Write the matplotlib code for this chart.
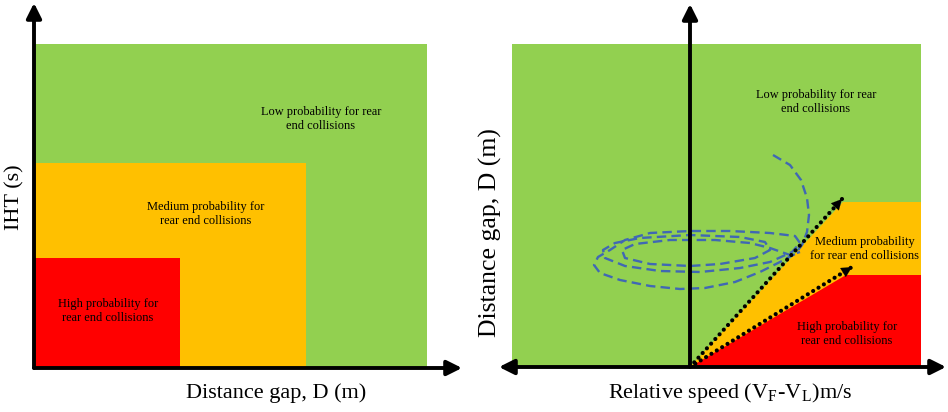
import matplotlib
matplotlib.use("Agg")
import matplotlib.pyplot as plt
from matplotlib.patches import Rectangle, Polygon

plt.rcParams['font.family'] = ['Liberation Serif', 'DejaVu Serif']
plt.rcParams['mathtext.fontset'] = 'stix'

GREEN = '#92D050'
ORANGE = '#FFC000'
RED = '#FF0000'
BLUE = '#4068B4'

# ---- left panel: IHT vs distance gap (zone widths / heights) ----
left_zone_names = ['Low', 'Medium', 'High']
left_zone_w = [39.3, 27.2, 14.6]
left_zone_h = [32.4, 20.5, 11.0]
left_zone_colors = [GREEN, ORANGE, RED]
left_zone_text = ['Low probability for rear\nend collisions',
                  'Medium probability for\nrear end collisions',
                  'High probability for\nrear end collisions']
left_text_x = [28.7, 17.2, 7.4]
left_text_y = [24.9, 15.4, 5.7]

# ---- right panel: distance gap vs relative speed ----
green_x = [-17.8, 23.1]
green_top = 32.3
orange_x = [0.0, 15.3, 23.1, 23.1]
orange_y = [0.0, 16.5, 16.5, 0.0]
red_x = [0.0, 15.6, 23.1, 23.1]
red_y = [0.0, 9.2, 9.2, 0.0]
upper_line = [(0.0, 0.0), (15.2, 16.8)]
lower_line = [(0.0, 0.0), (16.2, 10.0)]

traj_x = [8.3, 10.0, 11.1, 11.7, 11.9, 11.7, 11.2, 10.5, 9.0, 7.0, 4.5, 1.5,
          -1.0, -4.0, -7.0, -9.0, -9.6, -9.2, -8.0, -6.5, -4.0, 0.0, 4.0, 8.0,
          10.5, 11.0, 10.2, 8.0, 5.0, 1.0, -3.0, -6.5, -8.5, -8.7, -7.5, -5.0,
          0.0, 5.0, 7.5, 8.0, 6.5, 3.0, 0.0, -4.0, -6.5, -6.8, -5.5, -2.0,
          2.5, 6.0, 8.0, 10.0, 11.0]
traj_y = [21.2, 20.2, 18.7, 16.9, 15.2, 13.5, 12.2, 11.3, 10.5, 9.5, 8.5, 7.9,
          7.8, 8.1, 8.7, 9.4, 10.2, 11.0, 11.7, 12.7, 13.4, 13.6, 13.6, 13.4,
          13.1, 12.4, 11.5, 10.5, 9.9, 9.5, 9.6, 10.1, 10.9, 11.7, 12.4, 12.9,
          13.2, 13.0, 12.5, 11.7, 10.9, 10.3, 10.1, 10.3, 10.9, 11.7, 12.3, 12.7,
          12.7, 12.4, 11.9, 11.2, 11.5]

right_text = ['Low probability for rear\nend collisions',
              'Medium probability\nfor rear end collisions',
              'High probability for\nrear end collisions']
right_text_x = [12.6, 17.5, 15.7]
right_text_y = [26.5, 11.8, 3.3]

W, H = 948, 412
fig = plt.figure(figsize=(W / 100, H / 100), dpi=100)

axis_arrow = dict(arrowstyle='-|>,head_length=0.9,head_width=0.45',
                  color='black', lw=2.8, shrinkA=0, shrinkB=0)

# left axes
ax1 = fig.add_axes([34 / W, (H - 368) / H, 436 / W, 368 / H])
ax1.set_xlim(0, 43.6)
ax1.set_ylim(0, 36.8)
ax1.axis('off')
for w, h, c in zip(left_zone_w, left_zone_h, left_zone_colors):
    ax1.add_patch(Rectangle((0, 0), w, h, color=c, lw=0))
for t, x, y in zip(left_zone_text, left_text_x, left_text_y):
    ax1.text(x, y, t, ha='center', va='center', fontsize=8.9, linespacing=1.2)
ax1.annotate('', xy=(42.8, 0), xytext=(0, 0), arrowprops=axis_arrow,
             annotation_clip=False)
ax1.annotate('', xy=(0, 36.5), xytext=(0, 0), arrowprops=axis_arrow,
             annotation_clip=False)
ax1.text(24.2, -2.5, 'Distance gap, D (m)', ha='center', va='center',
         fontsize=16)
ax1.text(-1.9, 17.1, 'IHT (s)', ha='center', va='center', fontsize=16,
         rotation=90)

# right axes
ax2 = fig.add_axes([498 / W, (H - 367) / H, 450 / W, 367 / H])
ax2.set_xlim(-19.2, 25.8)
ax2.set_ylim(0, 36.7)
ax2.axis('off')
ax2.add_patch(Rectangle((green_x[0], 0), green_x[1] - green_x[0], green_top,
                        color=GREEN, lw=0))
ax2.add_patch(Polygon(list(zip(orange_x, orange_y)), color=ORANGE, lw=0))
ax2.add_patch(Polygon(list(zip(red_x, red_y)), color=RED, lw=0))
ax2.plot(traj_x, traj_y, color=BLUE, lw=1.7, ls=(0, (4, 2.2)))
for line in (upper_line, lower_line):
    (x0, y0), (x1, y1) = line
    ax2.plot([x0, x1], [y0, y1], color='black', lw=3.0, ls=(0, (0.01, 1.5)),
             dash_capstyle='round')
    ax2.annotate('', xy=(x1, y1),
                 xytext=(x0 + 0.88 * (x1 - x0), y0 + 0.88 * (y1 - y0)),
                 arrowprops=dict(arrowstyle='-|>,head_length=0.75,head_width=0.38',
                                 color='black', lw=0.1, shrinkA=0, shrinkB=0))
for t, x, y in zip(right_text, right_text_x, right_text_y):
    ax2.text(x, y, t, ha='center', va='center', fontsize=8.9, linespacing=1.2)
dbl_arrow = dict(axis_arrow)
dbl_arrow['arrowstyle'] = '<|-|>,head_length=0.9,head_width=0.45'
ax2.annotate('', xy=(25.6, 0), xytext=(-19.1, 0), arrowprops=dbl_arrow,
             annotation_clip=False)
ax2.annotate('', xy=(0, 36.3), xytext=(0, 0), arrowprops=axis_arrow,
             annotation_clip=False)
ax2.text(4.0, -2.6, r'Relative speed (V$_\mathregular{F}$-V$_\mathregular{L}$)m/s',
         ha='center', va='center', fontsize=16)
ax2.text(-20.0, 13.4, 'Distance gap, D (m)', ha='center', va='center',
         fontsize=18.5, rotation=90)

fig.savefig('out.png', dpi=100)
